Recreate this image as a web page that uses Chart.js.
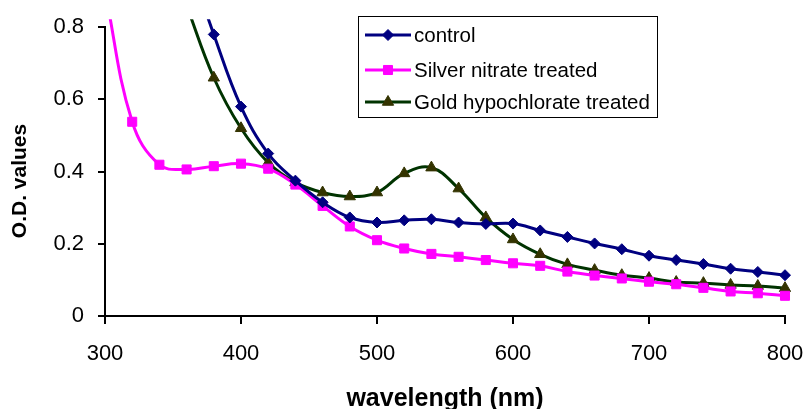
<!DOCTYPE html>
<html>
<head>
<meta charset="utf-8">
<script src="https://cdn.jsdelivr.net/npm/chart.js@4/dist/chart.umd.min.js"></script>
<style>
  html, body { margin: 0; padding: 0; background: #fff; overflow: hidden; }
  #wrap { width: 807px; height: 409px; position: relative; }
</style>
</head>
<body>
<div id="wrap"><canvas id="od-chart"></canvas></div>
<script>
// wavelength (nm), one reading every 20 nm
const wavelengths = [300, 320, 340, 360, 380, 400, 420, 440, 460, 480, 500, 520, 540,
  560, 580, 600, 620, 640, 660, 680, 700, 720, 740, 760, 780, 800]
const controlOD = [null, null, null, 1.0, 0.78, 0.58, 0.45, 0.375, 0.315, 0.273, 0.259, 0.265, 0.268,
  0.259, 0.255, 0.256, 0.237, 0.219, 0.201, 0.185, 0.167, 0.155, 0.144, 0.131, 0.122, 0.113]
const silverOD = [0.9, 0.538, 0.419, 0.406, 0.415, 0.422, 0.408, 0.364, 0.305, 0.248, 0.21, 0.187, 0.172,
  0.164, 0.155, 0.146, 0.139, 0.123, 0.112, 0.104, 0.095, 0.088, 0.078, 0.068, 0.063, 0.056]
const goldOD = [null, null, null, 0.86, 0.66, 0.52, 0.425, 0.37, 0.342, 0.331, 0.342, 0.395, 0.411,
  0.353, 0.273, 0.212, 0.171, 0.143, 0.127, 0.113, 0.105, 0.094, 0.091, 0.086, 0.083, 0.077]
const seriesNames = ['control', 'Silver nitrate treated', 'Gold hypochlorate treated']
const xTicks = [300, 400, 500, 600, 700, 800]
const yTicks = [0, 0.2, 0.4, 0.6, 0.8]
const yTitle = 'O.D. values'

const FONT = "'Liberation Sans', Arial, sans-serif"

const toPoints = (vals) => wavelengths.map((w, i) => ({x: w, y: vals[i]}))

const makeSet = (label, vals, lineColor, markColor, style, radius) => ({
  label: label,
  data: toPoints(vals),
  borderColor: lineColor,
  backgroundColor: markColor,
  pointBackgroundColor: markColor,
  pointBorderColor: markColor,
  pointBorderWidth: 1,
  pointStyle: style,
  pointRadius: radius,
  borderWidth: 3,
  tension: 0.4,
  clip: {left: 2, top: 8, right: 6, bottom: 4}
})

// legend box inside the plot + y title sitting a bit below the middle, like the original
const boxLegend = {
  id: 'boxLegend',
  afterDraw(chart) {
    const ctx = chart.ctx
    const bx = 358.5, by = 16.5, bw = 299, bh = 101
    const rows = [35, 70, 102]
    ctx.save()
    ctx.fillStyle = '#fff'
    ctx.fillRect(bx, by, bw, bh)
    ctx.strokeStyle = '#000'
    ctx.lineWidth = 1
    ctx.strokeRect(bx, by, bw, bh)
    chart.data.datasets.forEach((ds, i) => {
      const y = rows[i]
      ctx.strokeStyle = ds.borderColor
      ctx.lineWidth = 3
      ctx.beginPath()
      ctx.moveTo(365, y)
      ctx.lineTo(411, y)
      ctx.stroke()
      ctx.fillStyle = ds.pointBackgroundColor
      ctx.strokeStyle = ds.pointBorderColor
      ctx.lineWidth = 1
      Chart.helpers.drawPoint(ctx, {pointStyle: ds.pointStyle, radius: ds.pointRadius, borderWidth: 1, rotation: 0}, 388, y)
      ctx.fillStyle = '#000'
      ctx.font = '20.5px ' + FONT
      ctx.textBaseline = 'middle'
      ctx.textAlign = 'left'
      ctx.fillText(ds.label, 414, y + 1)
    })
    ctx.translate(20, 181)
    ctx.rotate(-Math.PI / 2)
    ctx.fillStyle = '#000'
    ctx.font = 'bold 21px ' + FONT
    ctx.textAlign = 'center'
    ctx.textBaseline = 'middle'
    ctx.fillText(yTitle, 0, 0)
    ctx.restore()
  }
}

const createChart = () => {
  const config = {
    type: 'line',
    data: {
      datasets: [
        makeSet(seriesNames[0], controlOD, '#000080', '#000080', 'rectRot', 5.5),
        makeSet(seriesNames[1], silverOD, '#ff00ff', '#ff00ff', 'rect', 6.4),
        makeSet(seriesNames[2], goldOD, '#003300', '#333300', 'triangle', 6.5)
      ]
    },
    options: {
      responsive: false,
      animation: false,
      layout: {padding: {top: 26, right: 22, left: 0, bottom: 0}},
      plugins: {legend: {display: false}, tooltip: {enabled: false}},
      scales: {
        x: {
          type: 'linear',
          min: 300, max: 800,
          afterBuildTicks: (s) => { s.ticks = xTicks.map(v => ({value: v})) },
          afterFit: (s) => { s.height = 93; s.paddingLeft = 0; s.paddingRight = 0 },
          ticks: {color: '#000', font: {family: FONT, size: 22}, padding: 17, maxRotation: 0},
          grid: {drawOnChartArea: false, drawTicks: true, tickLength: 8, color: '#000', lineWidth: 2},
          border: {color: '#000', width: 2},
          title: {display: true, text: 'wavelength (nm)', color: '#000',
            font: {family: FONT, size: 25, weight: 'bold'}, padding: {top: 0, bottom: -5}}
        },
        y: {
          min: 0, max: 0.8,
          afterBuildTicks: (s) => { s.ticks = yTicks.map(v => ({value: v})) },
          afterFit: (s) => { s.width = 105 },
          ticks: {color: '#000', font: {family: FONT, size: 22}, padding: 14},
          grid: {drawOnChartArea: false, drawTicks: true, tickLength: 7, color: '#000', lineWidth: 2},
          border: {color: '#000', width: 2}
        }
      }
    },
    plugins: [boxLegend]
  }
  const canvas = document.getElementById('od-chart')
  canvas.width = 807
  canvas.height = 409
  new Chart(canvas, config)
}

createChart()
</script>
</body>
</html>
